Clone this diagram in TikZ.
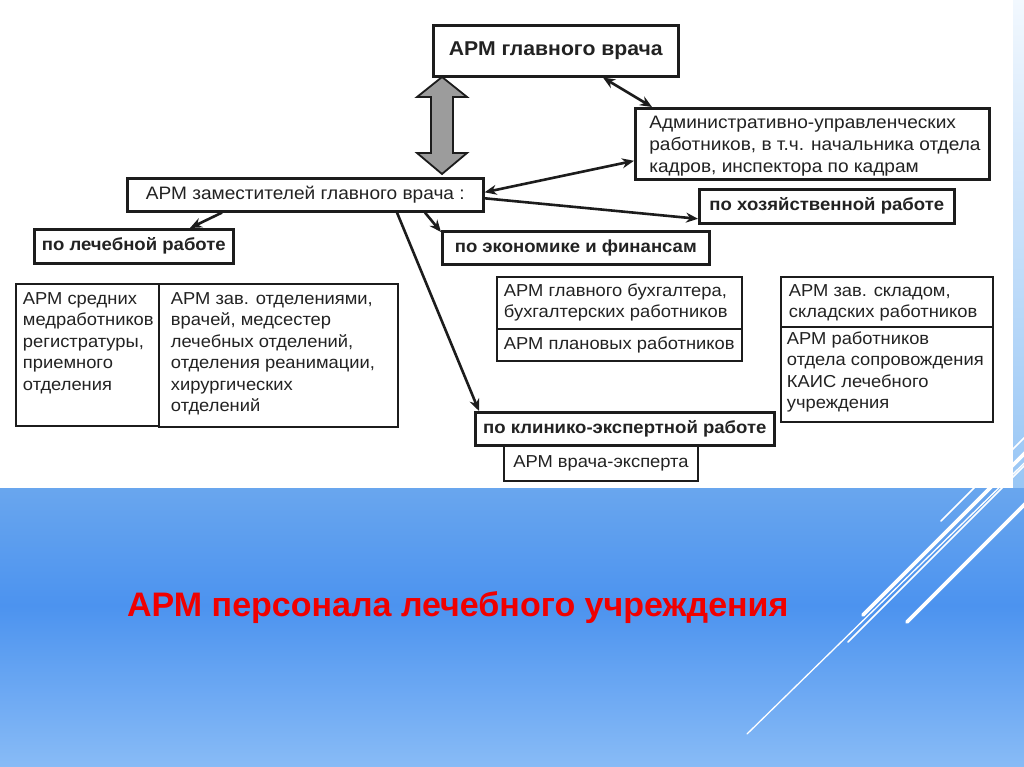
\documentclass[tikz,border=0pt]{standalone}
\usepackage{fontspec}
\setmainfont[FakeStretch=1.06]{Liberation Sans}
\newfontfamily\titlefont{Liberation Sans}
\usetikzlibrary{arrows.meta,calc}
\definecolor{bord}{HTML}{1C1C1C}
\definecolor{txt}{HTML}{222222}
\definecolor{bgA}{HTML}{F2F8FE}
\definecolor{bgB}{HTML}{98C6F5}
\definecolor{bgC}{HTML}{69A6EE}
\definecolor{bgD}{HTML}{4C93EF}
\definecolor{bgE}{HTML}{88BBF6}
\definecolor{titlered}{HTML}{F00000}
\definecolor{arrgray}{HTML}{9C9C9C}
\pgfdeclareverticalshading{lowbg}{100bp}{color(0bp)=(bgE); color(25bp)=(bgE); color(54bp)=(bgD); color(75bp)=(bgC); color(100bp)=(bgC)}
\tikzset{
  bigbox/.style={draw=bord, line width=2.6pt, rectangle, inner sep=0pt, anchor=north west, text=txt},
  smallbox/.style={draw=bord, line width=1.9pt, rectangle, inner sep=0pt, anchor=north west, text=txt},
  lbl/.style={font=\bfseries\fontsize{17.5}{21}\selectfont},
  reg/.style={font=\fontsize{17.3}{21.5}\selectfont},
  conn/.style={draw=bord, line width=2.6pt, -{Stealth[length=12pt,width=10pt]}},
  dconn/.style={draw=bord, line width=2.6pt, {Stealth[length=12pt,width=10pt]}-{Stealth[length=12pt,width=10pt]}},
  deco/.style={white, line cap=round},
}
\newcommand{\boxtext}[4]{\parbox[c][#1][t]{#2}{\vspace*{#3}\raggedright #4}}
\newcommand{\tline}[1]{\mbox{#1}}
\begin{document}
\begin{tikzpicture}[x=1pt,y=-1pt]
\useasboundingbox (0,0) rectangle (1024,767);
% background
\shade[top color=bgA, bottom color=bgB] (0,0) rectangle (1024,488);
\shade[shading=lowbg] (0,488) rectangle (1024,767);
\begin{scope}
\clip (0,0) rectangle (1024,767);
\draw[deco, line width=3.6pt] (863,615) -- ++(320,-320);
\draw[deco, line width=1.6pt] (848,642) -- ++(340,-340);
\draw[deco, line width=1.3pt] (747,734) -- ++(440,-430);
\draw[deco, line width=3.6pt] (907,622) -- ++(300,-300);
\draw[deco, line width=1.6pt] (941,521) -- ++(200,-200);
\end{scope}
\fill[white] (0,0) rectangle (1013,488);

% nodes
\node[bigbox, minimum width=245pt, minimum height=51pt, font=\bfseries\fontsize{20}{24}\selectfont] (main) at (432,24) {АРМ главного врача};
\node[bigbox, minimum width=356pt, minimum height=33pt, font=\fontsize{18}{22}\selectfont] (zam) at (126,177) {АРМ заместителей главного врача :};
\node[bigbox, font=\fontsize{18}{22}\selectfont, inner xsep=14pt] (admin) at (634,107)
  {\boxtext{71pt}{326pt}{7.5pt}{\tline{Административно-управленческих}\\\tline{работников, в т.ч. начальника отдела}\\\tline{кадров, инспектора по кадрам}}};
\node[bigbox, lbl, minimum width=255pt, minimum height=34pt] (khoz) at (698,188) {по хозяйственной работе};
\node[bigbox, lbl, minimum width=199pt, minimum height=34pt] (lech) at (33,228) {по лечебной работе};
\node[bigbox, lbl, minimum width=267pt, minimum height=33pt] (econ) at (441,230) {по экономике и финансам};

\node[smallbox, reg, inner xsep=7pt] (sred) at (15,283)
  {\boxtext{142pt}{129pt}{8.5pt}{\tline{АРМ средних}\\\tline{медработников}\\\tline{регистратуры,}\\\tline{приемного}\\\tline{отделения}}};
\node[smallbox, reg, inner xsep=12pt] (zav) at (158,283)
  {\boxtext{143pt}{215pt}{8.5pt}{\tline{АРМ зав. отделениями,}\\\tline{врачей, медсестер}\\\tline{лечебных отделений,}\\\tline{отделения реанимации,}\\\tline{хирургических}\\\tline{отделений}}};

\node[smallbox, reg, inner xsep=7pt] (buh) at (496,276)
  {\boxtext{52pt}{231pt}{6.5pt}{\tline{АРМ главного бухгалтера,}\\\tline{бухгалтерских работников}}};
\node[smallbox, reg, inner xsep=7pt] (plan) at (496,328)
  {\boxtext{32pt}{231pt}{7.5pt}{\tline{АРМ плановых работников}}};
\node[smallbox, reg, inner xsep=8pt] (sklad) at (780,276)
  {\boxtext{50pt}{196pt}{7.5pt}{\tline{АРМ зав. складом,}\\\tline{складских работников}}};
\node[smallbox, reg, inner xsep=6pt] (kais) at (780,326)
  {\boxtext{95pt}{200pt}{4.5pt}{\tline{АРМ работников}\\\tline{отдела сопровождения}\\\tline{КАИС лечебного}\\\tline{учреждения}}};

\node[bigbox, lbl, minimum width=299pt, minimum height=33pt] (klin) at (474,411) {по клинико-экспертной работе};
\node[smallbox, reg, minimum width=194pt, minimum height=35pt] (expert) at (503,445) {АРМ врача-эксперта};

% big double arrow
\draw[bord, line width=1.8pt, fill=arrgray, line join=miter]
  (442,77) -- (467,97) -- (453,97) -- (453,153) -- (467,153) -- (442,174)
  -- (417,153) -- (431,153) -- (431,97) -- (417,97) -- cycle;

% connectors
\draw[dconn] ([xshift=171pt]main.south west) -- ([xshift=18pt]admin.north west);
\draw[dconn] ([yshift=2.5pt]zam.east) -- ([yshift=-17pt]admin.west);
\draw[conn] ([yshift=-3.5pt]zam.east) -- ([yshift=-12.5pt]khoz.west);
\draw[conn] ([xshift=96pt]zam.south west) -- ([xshift=157pt]lech.north west);
\draw[conn] ([xshift=299pt]zam.south west) -- ([xshift=0pt,yshift=-2pt]econ.north west);
\draw[conn] ([xshift=271pt]zam.south west) -- ([xshift=5pt]klin.north west);

% title
\node[anchor=base west, inner sep=0pt, text=titlered, font=\titlefont\bfseries\fontsize{34}{40}\selectfont] (title) at (127,616) {АРМ персонала лечебного учреждения};
\end{tikzpicture}
\end{document}
